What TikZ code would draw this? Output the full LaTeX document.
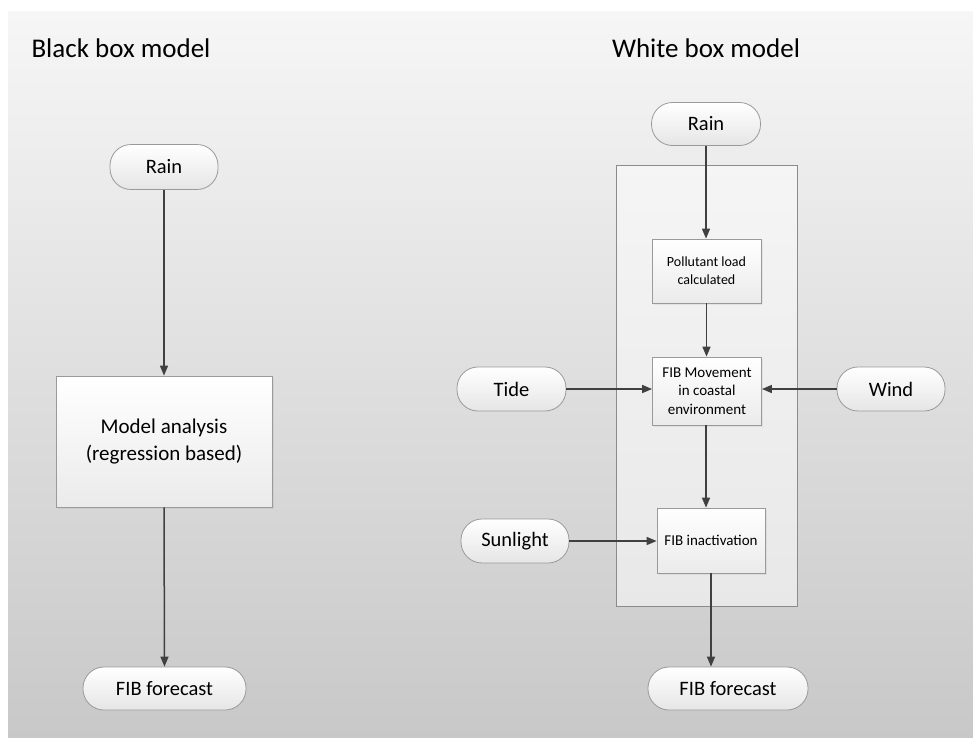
\documentclass[tikz,border=0pt]{standalone}
\usepackage{fontspec}
\setmainfont{Carlito}
\usetikzlibrary{arrows.meta,shadows}
\definecolor{arrowc}{HTML}{404040}
\definecolor{edgec}{HTML}{9A9A9A}
\definecolor{bgtop}{HTML}{F6F6F6}
\definecolor{bgbot}{HTML}{C8C8C8}
\tikzset{
  pill/.style={rounded corners=21pt, draw=edgec, line width=0.8pt, top color=white, bottom color=white!90!black,
    inner sep=0pt, align=center, font=\fontsize{20.5}{24}\selectfont},
  procbox/.style={rectangle, draw=edgec, line width=0.8pt, top color=white, bottom color=white!92!black,
    inner sep=0pt, align=center, drop shadow={opacity=0.12, shadow xshift=1.5pt, shadow yshift=-1.5pt}},
  conn/.style={draw=arrowc, line width=1.5pt, -{Triangle[length=10pt,width=8pt]}},
  title/.style={font=\fontsize{27}{32}\selectfont, inner sep=0pt}
}
\begin{document}
\begin{tikzpicture}[x=1pt,y=-1pt]
\useasboundingbox (0,0) rectangle (973,737);
\fill[white] (0,0) rectangle (973,737);
\shade[top color=bgtop, bottom color=bgbot] (8,11) rectangle (973,737);
% container
\draw[draw=edgec!90!black, line width=0.8pt, top color=white!96!black, bottom color=white!91!black] (616,165) rectangle (797,606);
% titles
\node[title] (titleL) at (121,48) {Black box model};
\node[title] (titleR) at (706,48) {White box model};
% left column
\node[pill, minimum width=108pt, minimum height=45pt] (rainL) at (164,167) {Rain};
\node[procbox, minimum width=216pt, minimum height=131pt, font=\fontsize{21}{27}\selectfont] (modelL) at (164,441.5) {Model analysis\\(regression based)};
\node[pill, minimum width=163pt, minimum height=43pt] (fibL) at (164.5,688.5) {FIB forecast};
% right column
\node[pill, minimum width=109pt, minimum height=43pt] (rainR) at (706,124) {Rain};
\node[procbox, minimum width=109pt, minimum height=64pt, font=\fontsize{14}{18}\selectfont] (poll) at (706.5,271) {Pollutant load\\calculated};
\node[procbox, minimum width=109pt, minimum height=68pt, font=\fontsize{15}{18.5}\selectfont] (move) at (707,391) {FIB Movement\\in coastal\\environment};
\node[pill, minimum width=109pt, minimum height=44pt] (tide) at (511.5,389) {Tide};
\node[pill, minimum width=108pt, minimum height=44pt] (wind) at (891,389) {Wind};
\node[pill, minimum width=108pt, minimum height=44pt] (sun) at (515,541) {Sunlight};
\node[procbox, minimum width=108pt, minimum height=65pt, font=\fontsize{15}{18}\selectfont] (inact) at (711,540.5) {FIB inactivation};
\node[pill, minimum width=160pt, minimum height=43pt] (fibR) at (728,688.5) {FIB forecast};
\coordinate (moveout) at (706,425);
\coordinate (inactout) at (711,573);
% connectors
\draw[conn] (rainL.south) -- (modelL.north);
\draw[conn] (modelL.south) -- (fibL.north);
\draw[conn] (rainR.south) -- (rainR.south |- poll.north);
\draw[conn] (poll.south) -- (poll.south |- move.north);
\draw[conn] (tide.east) -- (tide.east -| move.west);
\draw[conn] (wind.west) -- (wind.west -| move.east);
\draw[conn] (move.south -| moveout) -- (moveout |- inact.north);
\draw[conn] (sun.east) -- (sun.east -| inact.west);
\draw[conn] (inact.south -| inactout) -- (inactout |- fibR.north);
\end{tikzpicture}
\end{document}
